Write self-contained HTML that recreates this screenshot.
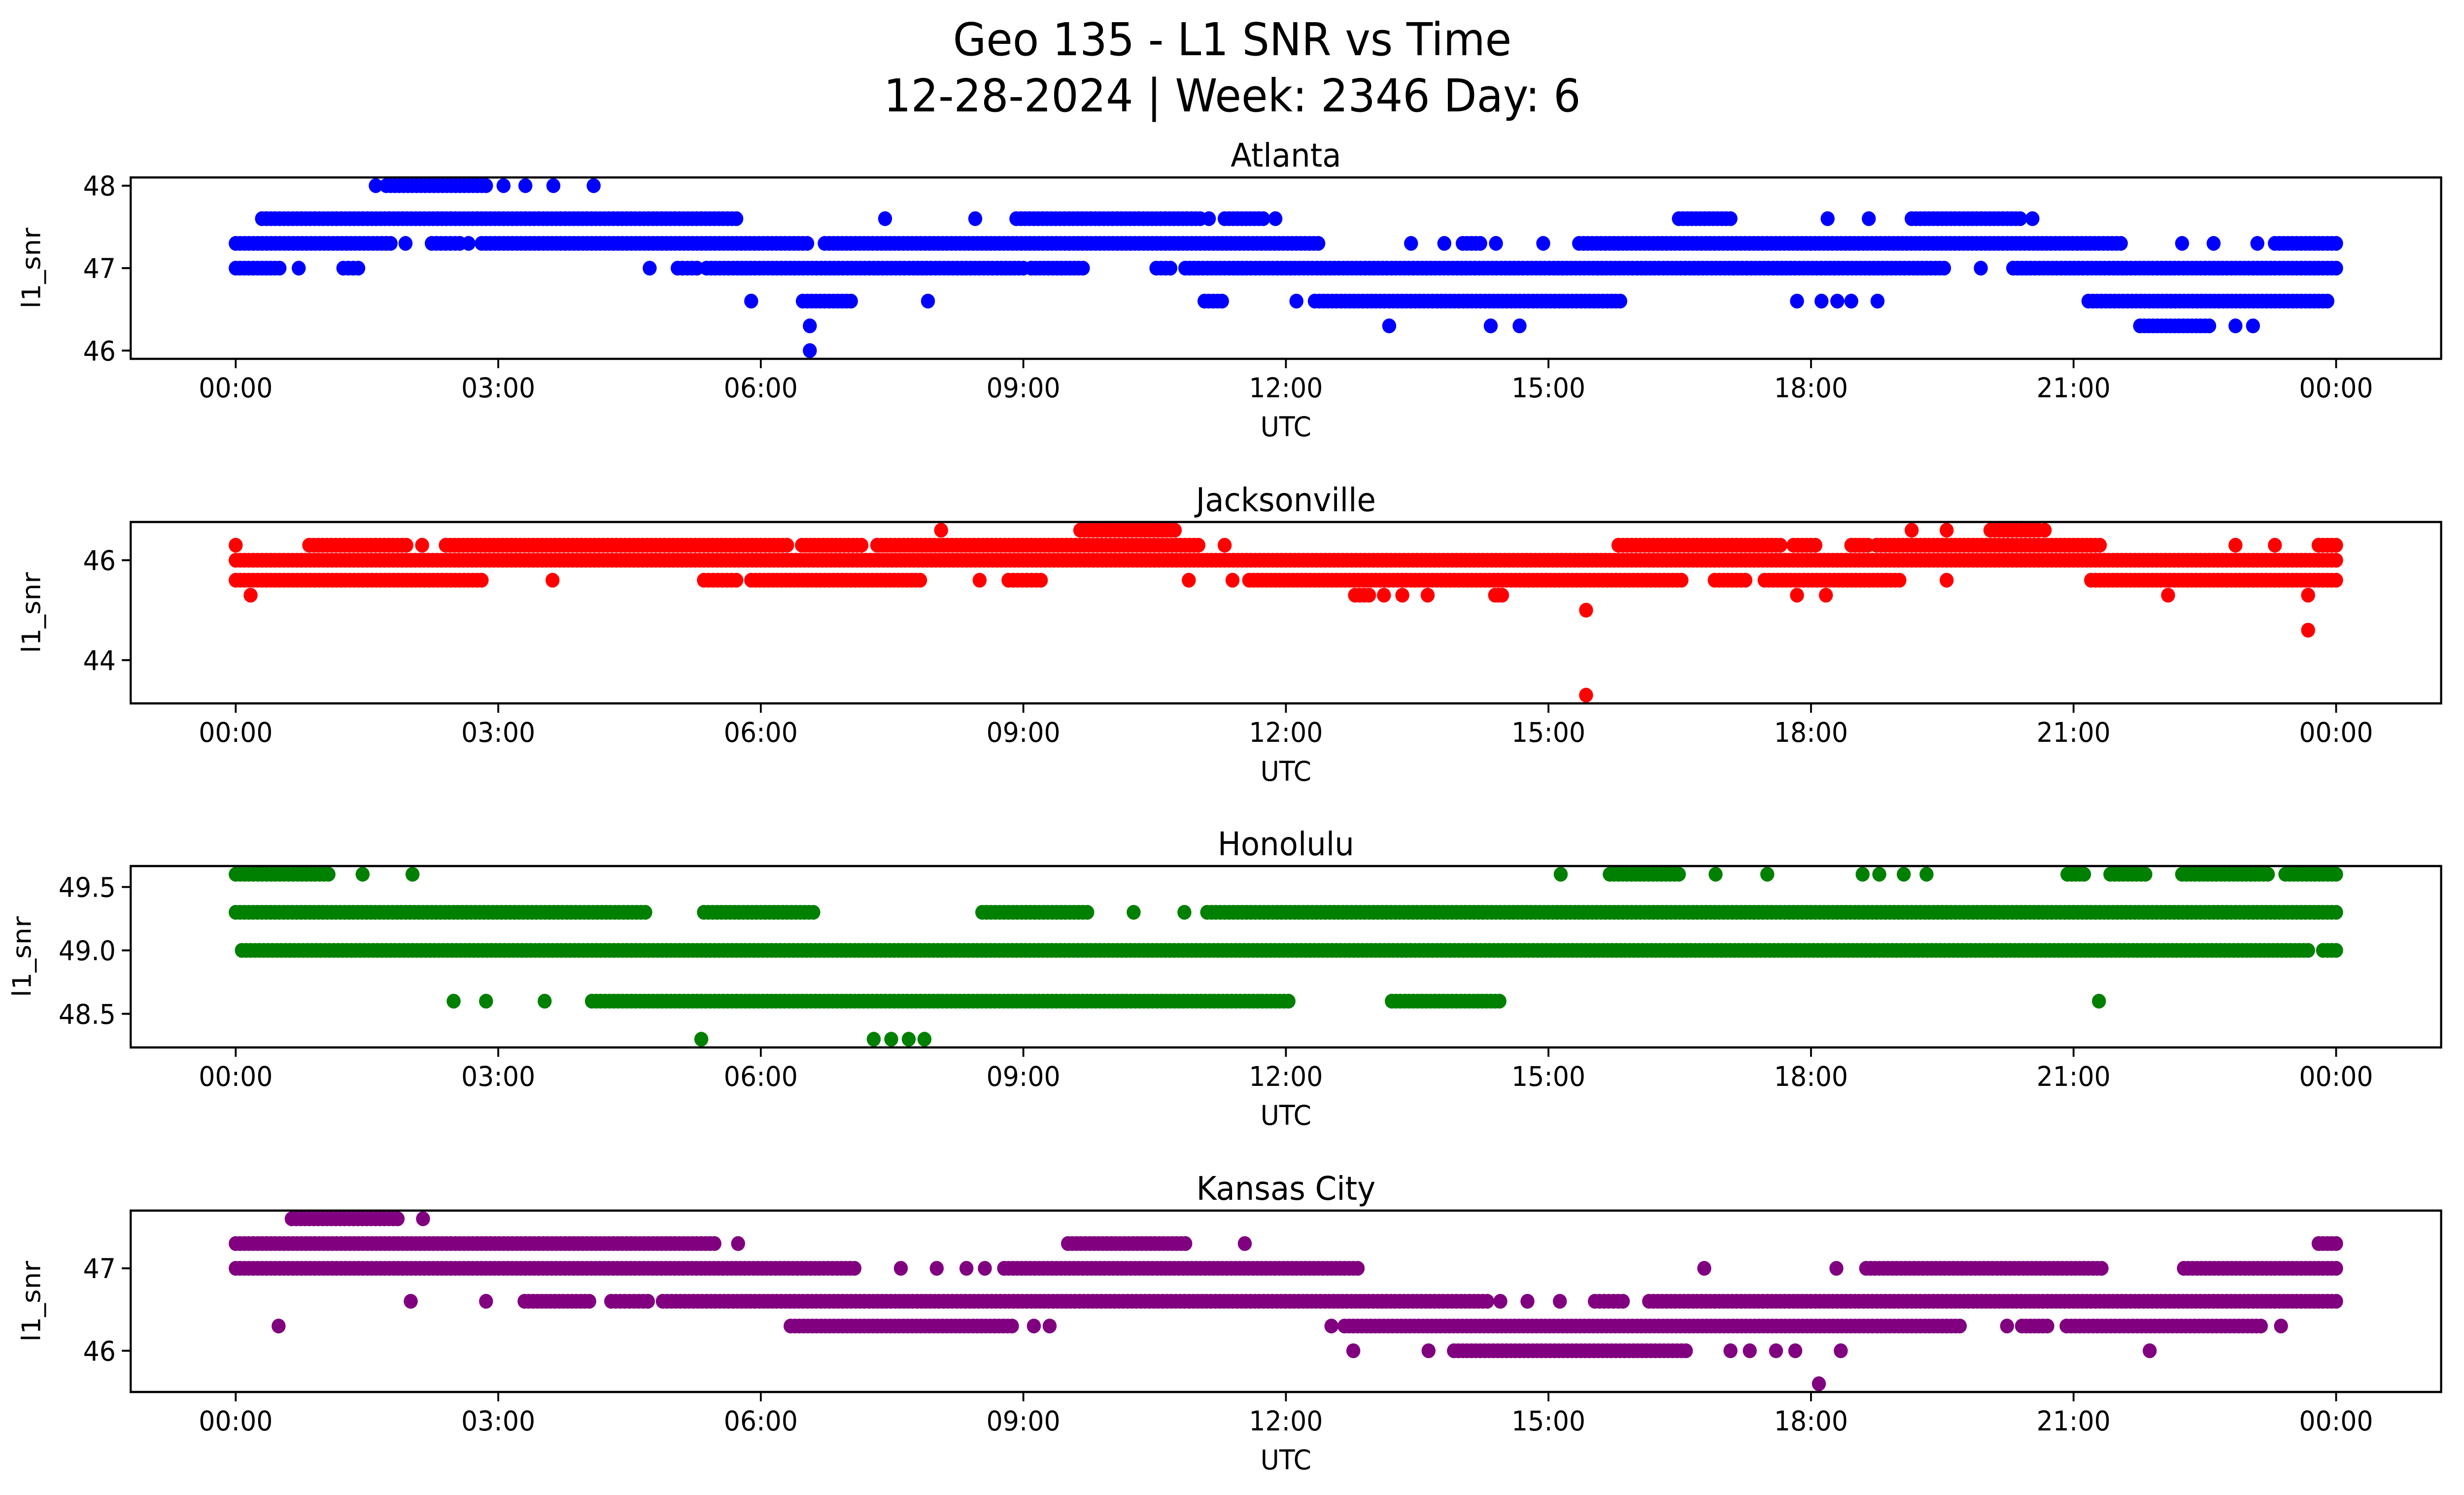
<!DOCTYPE html>
<html><head><meta charset="utf-8"><style>
html,body{margin:0;padding:0;background:#fff;overflow:hidden;width:100vw;height:100vh}
svg{display:block;width:100vw;height:100vh;font-family:"DejaVu Sans","Liberation Sans",sans-serif}
</style></head><body>
<svg id="fig" viewBox="0 0 5279 3033" preserveAspectRatio="none" xmlns="http://www.w3.org/2000/svg">
<rect width="5279" height="3033" fill="#fff"/>
<text x="2640" y="112" font-size="92" text-anchor="middle">Geo 135 - L1 SNR vs Time</text>
<text x="2640" y="226" font-size="92" text-anchor="middle">12-28-2024 | Week: 2346 Day: 6</text>
</svg>
<script>
// Data: runs of [snr level, start hour, end hour] (single points have start == end)
const hourTicks = [0,3,6,9,12,15,18,21,24];
const hourTickLabels = ["00:00","03:00","06:00","09:00","12:00","15:00","18:00","21:00","00:00"];
const stationNames = ["Atlanta","Jacksonville","Honolulu","Kansas City"];
const stationColors = ["#0000ff","#ff0000","#008000","#800080"];
const atlantaRuns = [
[48,1.6,1.6],[48,1.72,2.86],[48,3.06,3.06],[48,3.31,3.31],[48,3.63,3.63],[48,4.09,4.09],
[47.6,0.3,5.72],[47.6,7.42,7.42],[47.6,8.45,8.45],[47.6,8.92,11.02],[47.6,11.12,11.12],[47.6,11.3,11.74],[47.6,11.88,11.88],
[47.6,16.49,17.08],[47.6,18.19,18.19],[47.6,18.66,18.66],[47.6,19.15,20.39],[47.6,20.53,20.53],
[47.3,0,1.77],[47.3,1.94,1.94],[47.3,2.24,2.56],[47.3,2.66,2.66],[47.3,2.81,6.53],[47.3,6.73,12.37],[47.3,13.43,13.43],
[47.3,13.81,13.81],[47.3,14.02,14.22],[47.3,14.4,14.4],[47.3,14.94,14.94],[47.3,15.35,21.54],[47.3,22.24,22.24],
[47.3,22.6,22.6],[47.3,23.1,23.1],[47.3,23.3,24],
[47,0,0.5],[47,0.72,0.72],[47,1.23,1.4],[47,4.73,4.73],[47,5.05,5.27],[47,5.38,9.0],[47,9.09,9.68],[47,10.52,10.68],
[47,10.85,19.52],[47,19.94,19.94],[47,20.31,24],
[46.6,5.89,5.89],[46.6,6.48,7.03],[46.6,7.91,7.91],[46.6,11.07,11.27],[46.6,12.12,12.12],[46.6,12.33,15.82],
[46.6,17.84,17.84],[46.6,18.12,18.12],[46.6,18.3,18.3],[46.6,18.46,18.46],[46.6,18.76,18.76],[46.6,21.17,23.9],
[46.3,6.56,6.56],[46.3,13.18,13.18],[46.3,14.34,14.34],[46.3,14.67,14.67],[46.3,21.76,22.55],[46.3,22.85,22.85],[46.3,23.05,23.05],
[46,6.56,6.56]];
const jacksonvilleRuns = [
[46.6,8.06,8.06],[46.6,9.65,10.73],[46.6,19.15,19.15],[46.6,19.55,19.55],[46.6,20.05,20.6],[46.6,20.67,20.67],
[46.3,0,0],[46.3,0.84,1.95],[46.3,2.13,2.13],[46.3,2.4,6.3],[46.3,6.47,7.15],[46.3,7.33,11.0],[46.3,11.3,11.3],
[46.3,15.8,17.65],[46.3,17.8,18.05],[46.3,18.46,18.65],[46.3,18.75,21.3],[46.3,22.85,22.85],[46.3,23.3,23.3],[46.3,23.8,24],
[46,0,24],
[45.6,0,2.81],[45.6,3.62,3.62],[45.6,5.35,5.72],[45.6,5.89,7.82],[45.6,8.5,8.5],[45.6,8.83,9.2],[45.6,10.89,10.89],
[45.6,11.39,11.39],[45.6,11.58,16.52],[45.6,16.9,17.25],[45.6,17.47,19.01],[45.6,19.55,19.55],[45.6,21.2,24],
[45.3,0.17,0.17],[45.3,12.79,12.95],[45.3,13.12,13.12],[45.3,13.33,13.33],[45.3,13.62,13.62],[45.3,14.39,14.47],
[45.3,17.84,17.84],[45.3,18.17,18.17],[45.3,22.08,22.08],[45.3,23.68,23.68],
[45,15.43,15.43],[44.6,23.68,23.68],[43.3,15.43,15.43]];
const honoluluRuns = [
[49.6,0,1.06],[49.6,1.45,1.45],[49.6,2.02,2.02],[49.6,15.14,15.14],[49.6,15.7,16.49],[49.6,16.91,16.91],[49.6,17.5,17.5],
[49.6,18.59,18.59],[49.6,18.78,18.78],[49.6,19.06,19.06],[49.6,19.32,19.32],[49.6,20.93,21.12],[49.6,21.42,21.82],
[49.6,22.24,23.22],[49.6,23.42,24],
[49.3,0,4.68],[49.3,5.35,6.6],[49.3,8.53,9.73],[49.3,10.26,10.26],[49.3,10.84,10.84],[49.3,11.1,24],
[49,0.07,23.68],[49,23.85,24],
[48.6,2.49,2.49],[48.6,2.86,2.86],[48.6,3.53,3.53],[48.6,4.07,12.03],[48.6,13.21,14.44],[48.6,21.29,21.29],
[48.3,5.32,5.32],[48.3,7.29,7.29],[48.3,7.49,7.49],[48.3,7.69,7.69],[48.3,7.87,7.87]];
const kansasRuns = [
[47.6,0.64,1.85],[47.6,2.14,2.14],
[47.3,0,5.47],[47.3,5.74,5.74],[47.3,9.51,10.85],[47.3,11.53,11.53],[47.3,23.8,24],
[47,0,7.07],[47,7.6,7.6],[47,8.01,8.01],[47,8.35,8.35],[47,8.56,8.56],[47,8.78,12.82],[47,16.78,16.78],[47,18.29,18.29],
[47,18.63,21.32],[47,22.26,24],
[46.6,2.0,2.0],[46.6,2.86,2.86],[46.6,3.3,4.04],[46.6,4.29,4.71],[46.6,4.88,14.3],[46.6,14.45,14.45],[46.6,14.76,14.76],
[46.6,15.13,15.13],[46.6,15.53,15.85],[46.6,16.15,24],
[46.3,0.49,0.49],[46.3,6.34,8.87],[46.3,9.12,9.12],[46.3,9.3,9.3],[46.3,12.52,12.52],[46.3,12.67,19.7],[46.3,20.24,20.24],
[46.3,20.41,20.7],[46.3,20.92,23.14],[46.3,23.37,23.37],
[46,12.77,12.77],[46,13.63,13.63],[46,13.92,16.57],[46,17.08,17.08],[46,17.3,17.3],[46,17.6,17.6],[46,17.82,17.82],
[46,18.34,18.34],[46,21.87,21.87],
[45.6,18.09,18.09]];
const yTicksAtlanta = [46,47,48];
const yTicksJacksonville = [44,46];
const yTicksHonolulu = [48.5,49.0,49.5];
const yTicksKansas = [46,47];

const svg = document.getElementById('fig');
const NS = 'http://www.w3.org/2000/svg';
function mk(tag, attrs, parent){const e=document.createElementNS(NS,tag);for(const k in attrs)e.setAttribute(k,attrs[k]);(parent||svg).appendChild(e);return e;}

const axL=280, axR=5230, tops=[360,1059,1757,2456], axH=368;
const xMin=-1.2, xMax=25.2;
function xScale(h){return axL+(h-xMin)/(xMax-xMin)*(axR-axL);}

const panels=[
 {runs:atlantaRuns,ticks:yTicksAtlanta,dec:0,key:'atlanta'},
 {runs:jacksonvilleRuns,ticks:yTicksJacksonville,dec:0,key:'jacksonville'},
 {runs:honoluluRuns,ticks:yTicksHonolulu,dec:1,key:'honolulu'},
 {runs:kansasRuns,ticks:yTicksKansas,dec:0,key:'kansas-city'}];

panels.forEach((p,i)=>{
  const top=tops[i], bot=top+axH;
  let lo=Infinity,hi=-Infinity;
  p.runs.forEach(r=>{lo=Math.min(lo,r[0]);hi=Math.max(hi,r[0]);});
  const m=(hi-lo)*0.05, yMin=lo-m, yMax=hi+m;
  const yScale=v=>bot-(v-yMin)/(yMax-yMin)*axH;
  const g=mk('g',{});
  
  
  const t=mk('text',{x:(axL+axR)/2,y:top-22,'font-size':66,'text-anchor':'middle'},g);
  t.textContent=stationNames[i];
  
  
  const clipId='clip'+i;
  const cp=mk('clipPath',{id:clipId},g);
  mk('rect',{x:axL,y:top,width:axR-axL,height:axH},cp);
  const pts=mk('g',{'clip-path':'url(#'+clipId+')',fill:stationColors[i]},g);
  
  
  p.runs.forEach(r=>{
    const n=Math.max(0,Math.round((r[2]-r[1])/0.05));
    for(let k=0;k<=n;k++){
      const h=n?r[1]+(r[2]-r[1])*k/n:r[1];
      const c=mk('circle',{cx:xScale(h).toFixed(1),cy:yScale(r[0]).toFixed(1),r:15},pts);
      
      
    }
  });
  const frame=mk('rect',{x:axL,y:top,width:axR-axL,height:axH,fill:'none',stroke:'#000','stroke-width':4.5},g);
  
  
  hourTicks.forEach((h,j)=>{
    const x=xScale(h);
    mk('line',{x1:x,x2:x,y1:bot,y2:bot+19,stroke:'#000','stroke-width':4},g);
    const tl=mk('text',{x:x,y:bot+78,'font-size':55,'text-anchor':'middle'},g);
    tl.textContent=hourTickLabels[j];
    
    
  });
  const xl=mk('text',{x:(axL+axR)/2,y:bot+157,'font-size':55,'text-anchor':'middle'},g);
  xl.textContent='UTC';
  
  
  p.ticks.forEach(v=>{
    const y=yScale(v);
    mk('line',{x1:axL-19,x2:axL,y1:y,y2:y,stroke:'#000','stroke-width':4},g);
    const yl=mk('text',{x:axL-32,y:y+20,'font-size':55,'text-anchor':'end'},g);
    yl.textContent=v.toFixed(p.dec);
    
    
  });
  const yt=mk('text',{x:0,y:0,'font-size':55,'text-anchor':'middle',transform:'translate('+(i===2?66:86)+','+(top+axH/2)+') rotate(-90)'},g);
  yt.textContent='l1_snr';
  
  
});
</script>
</body></html>
